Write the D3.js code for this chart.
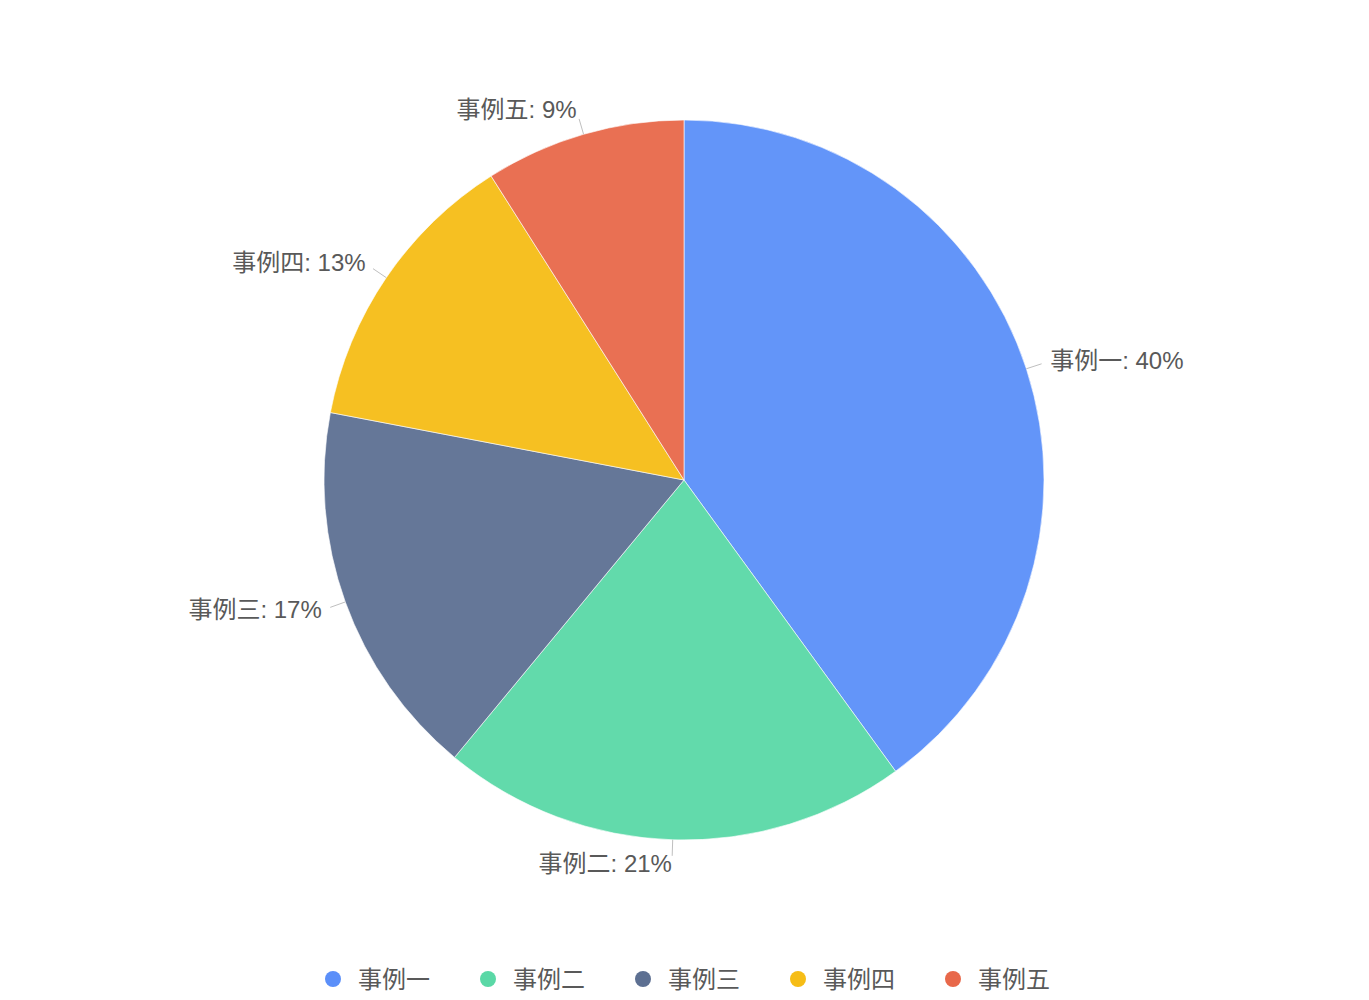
<!DOCTYPE html>
<html><head><meta charset="utf-8">
<script src="https://cdn.jsdelivr.net/npm/d3@7"></script>
<style>html,body{margin:0;padding:0;background:#fff;}svg{display:block;}</style>
</head><body>
<svg id="chart" width="1369" height="1000"></svg>
<script>
const categories = ["事例一", "事例二", "事例三", "事例四", "事例五"];
const values = [40, 21, 17, 13, 9];
const colors = ["#5B8FF9", "#5AD8A6", "#5D7092", "#F6BD16", "#E8684A"];

const W = 1369, H = 1000;
const cx = 684, cy = 480, R = 360;
const font = "'Liberation Sans','Noto Sans CJK SC',sans-serif";
const svg = d3.select("#chart");
const data = categories.map((c, i) => ({name: c, value: values[i]}));
const total = d3.sum(values);
const color = d3.scaleOrdinal().domain(categories).range(colors);

const pie = d3.pie().value(d => d.value).sort(null);
const arcs = pie(data);
const arc = d3.arc().innerRadius(0).outerRadius(R);

const g = svg.append("g").attr("transform", `translate(${cx},${cy})`);
g.selectAll("path.slice").data(arcs).join("path")
  .attr("class", "slice")
  .attr("d", arc)
  .attr("fill", d => color(d.data.name))
  .attr("fill-opacity", 0.95)
  .attr("stroke", "#fff")
  .attr("stroke-width", 1)
  .attr("stroke-opacity", 0.6);

function pt(a, r) { return [Math.sin(a) * r, -Math.cos(a) * r]; }

const labels = g.selectAll("g.label").data(arcs).join("g").attr("class", "label");
labels.append("line")
  .each(function(d) {
    const m = (d.startAngle + d.endAngle) / 2;
    const p1 = pt(m, R), p2 = pt(m, R + 16);
    d3.select(this).attr("x1", p1[0]).attr("y1", p1[1]).attr("x2", p2[0]).attr("y2", p2[1]);
  })
  .attr("stroke", "#bfbfbf").attr("stroke-width", 1);
labels.append("text")
  .each(function(d) {
    const m = (d.startAngle + d.endAngle) / 2;
    const p = pt(m, R + 25);
    d3.select(this).attr("x", p[0]).attr("y", p[1] - 1)
      .attr("text-anchor", p[0] < 0 ? "end" : "start");
  })
  .attr("dominant-baseline", "central")
  .attr("font-family", font).attr("font-size", 24)
  .attr("fill", "#595959")
  .text(d => `${d.data.name}: ${Math.round(d.data.value / total * 100)}%`);

// legend
const legendX = d3.scalePoint().domain(categories).range([333, 953]);
const lg = svg.append("g").attr("transform", `translate(0,979)`);
const items = lg.selectAll("g").data(categories).join("g")
  .attr("transform", d => `translate(${legendX(d)},0)`);
items.append("circle").attr("r", 8).attr("fill", d => color(d));
items.append("text").attr("x", 25).attr("dominant-baseline", "central")
  .attr("font-family", font).attr("font-size", 24).attr("fill", "#595959")
  .text(d => d);
</script>
</body></html>
